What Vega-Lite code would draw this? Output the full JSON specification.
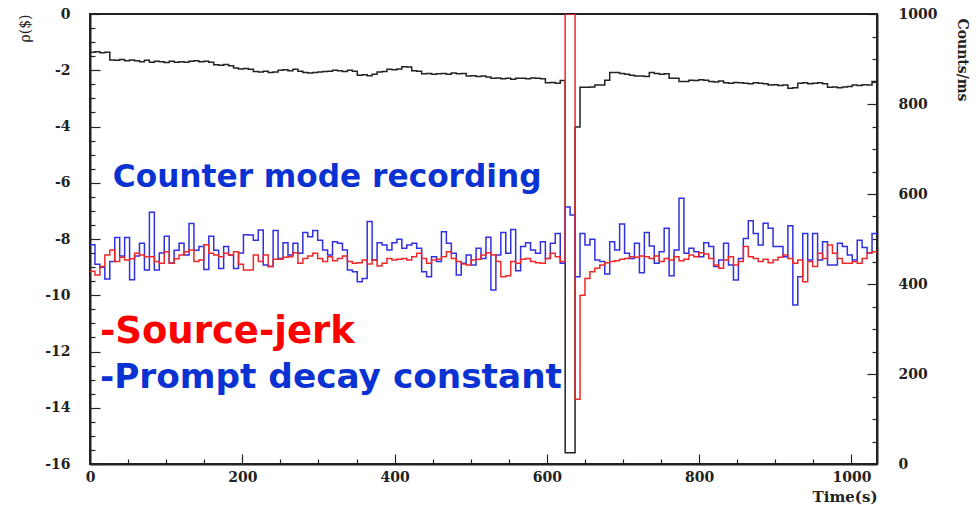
{
  "$schema": "https://vega.github.io/schema/vega-lite/v6.json",
  "width": 787,
  "height": 450,
  "autosize": {"type": "none"},
  "padding": {"left": 90, "top": 14, "right": 99, "bottom": 41},
  "background": "white",
  "config": {
    "view": {"stroke": "#222", "strokeWidth": 2},
    "axis": {
      "grid": false, "domainColor": "#222", "domainWidth": 2, "tickColor": "#222", "tickWidth": 1.2,
      "labelFont": "DejaVu Serif", "labelFontWeight": "bold", "labelFontSize": 14, "labelColor": "#222",
      "titleFont": "DejaVu Serif", "titleColor": "#222", "labelOverlap": false, "labelFlush": false
    }
  },
  "datasets": {
    "h": [
      {"t":0,"s":-9.15,"p":-8.2,"c":915},{"t":6.5,"s":-9.28,"p":-8.9,"c":916},{"t":13,"s":-8.98,"p":-9.0,"c":914},{"t":19.5,"s":-8.57,"p":-9.42,"c":915},
      {"t":26,"s":-8.39,"p":-8.8,"c":898},{"t":32.5,"s":-8.8,"p":-7.95,"c":897},{"t":39,"s":-8.65,"p":-8.6,"c":899},{"t":45.5,"s":-8.75,"p":-7.95,"c":896},
      {"t":52,"s":-8.7,"p":-9.45,"c":898},{"t":58.5,"s":-8.51,"p":-8.6,"c":896},{"t":65,"s":-8.57,"p":-8.15,"c":894},{"t":71.5,"s":-8.63,"p":-9.1,"c":897},
      {"t":78,"s":-8.63,"p":-7.05,"c":893},{"t":84.5,"s":-8.8,"p":-9.1,"c":895},{"t":91,"s":-8.86,"p":-8.5,"c":894},{"t":97.5,"s":-8.45,"p":-7.9,"c":892},
      {"t":104,"s":-8.86,"p":-8.85,"c":895},{"t":110.5,"s":-8.7,"p":-8.4,"c":893},{"t":117,"s":-8.57,"p":-8.15,"c":894},{"t":123.5,"s":-8.45,"p":-8.57,"c":893},
      {"t":130,"s":-8.39,"p":-7.45,"c":895},{"t":136.5,"s":-8.8,"p":-8.4,"c":896},{"t":143,"s":-8.75,"p":-8.27,"c":894},{"t":149.5,"s":-8.2,"p":-9.08,"c":895},
      {"t":156,"s":-8.51,"p":-7.9,"c":893},{"t":162.5,"s":-8.57,"p":-8.4,"c":887},{"t":169,"s":-8.63,"p":-9.05,"c":886},{"t":175.5,"s":-8.51,"p":-8.27,"c":888},
      {"t":182,"s":-8.57,"p":-8.57,"c":885},{"t":188.5,"s":-8.45,"p":-9.05,"c":880},{"t":195,"s":-8.9,"p":-8.5,"c":878},{"t":201.5,"s":-9.1,"p":-7.85,"c":879},
      {"t":208,"s":-9.1,"p":-7.86,"c":877},{"t":214.5,"s":-8.57,"p":-8.04,"c":872},{"t":221,"s":-8.8,"p":-7.68,"c":871},{"t":227.5,"s":-8.57,"p":-8.92,"c":873},
      {"t":234,"s":-8.98,"p":-8.98,"c":870},{"t":240.5,"s":-8.72,"p":-7.7,"c":871},{"t":247,"s":-8.72,"p":-8.69,"c":875},{"t":253.5,"s":-8.65,"p":-8.13,"c":876},
      {"t":260,"s":-8.63,"p":-8.57,"c":874},{"t":266.5,"s":-8.49,"p":-8.15,"c":877},{"t":273,"s":-8.86,"p":-8.51,"c":873},{"t":279.5,"s":-8.69,"p":-7.77,"c":870},
      {"t":286,"s":-8.6,"p":-7.92,"c":869},{"t":292.5,"s":-8.51,"p":-7.7,"c":870},{"t":299,"s":-8.69,"p":-8.04,"c":871},{"t":305.5,"s":-8.8,"p":-8.39,"c":872},
      {"t":312,"s":-8.63,"p":-8.57,"c":873},{"t":318.5,"s":-8.77,"p":-8.1,"c":875},{"t":325,"s":-8.69,"p":-8.15,"c":874},{"t":331.5,"s":-8.6,"p":-8.39,"c":872},
      {"t":338,"s":-8.8,"p":-9.1,"c":875},{"t":344.5,"s":-8.86,"p":-9.16,"c":873},{"t":351,"s":-8.84,"p":-9.52,"c":864},{"t":357.5,"s":-8.75,"p":-9.4,"c":865},
      {"t":364,"s":-8.89,"p":-7.38,"c":863},{"t":370.5,"s":-8.75,"p":-8.75,"c":866},{"t":377,"s":-8.96,"p":-8.13,"c":871},{"t":383.5,"s":-8.86,"p":-8.21,"c":872},
      {"t":390,"s":-8.69,"p":-8.39,"c":877},{"t":396.5,"s":-8.75,"p":-8.13,"c":876},{"t":403,"s":-8.72,"p":-8.01,"c":878},{"t":409.5,"s":-8.69,"p":-8.33,"c":883},
      {"t":416,"s":-8.75,"p":-8.21,"c":882},{"t":422.5,"s":-8.63,"p":-8.15,"c":874},{"t":429,"s":-8.51,"p":-8.33,"c":873},{"t":435.5,"s":-8.69,"p":-9.16,"c":867},
      {"t":442,"s":-8.86,"p":-9.34,"c":868},{"t":448.5,"s":-8.75,"p":-8.63,"c":866},{"t":455,"s":-8.72,"p":-8.8,"c":867},{"t":461.5,"s":-8.63,"p":-7.74,"c":868},
      {"t":468,"s":-8.45,"p":-8.15,"c":866},{"t":474.5,"s":-8.69,"p":-8.51,"c":869},{"t":481,"s":-8.8,"p":-9.28,"c":867},{"t":487.5,"s":-8.89,"p":-8.86,"c":868},
      {"t":494,"s":-8.92,"p":-8.57,"c":862},{"t":500.5,"s":-8.75,"p":-8.92,"c":863},{"t":507,"s":-8.72,"p":-8.33,"c":861},{"t":513.5,"s":-8.57,"p":-8.69,"c":862},
      {"t":520,"s":-8.49,"p":-7.94,"c":860},{"t":526.5,"s":-8.57,"p":-9.81,"c":857},{"t":533,"s":-8.8,"p":-8.57,"c":858},{"t":539.5,"s":-9.34,"p":-7.77,"c":856},
      {"t":546,"s":-9.31,"p":-8.51,"c":857},{"t":552.5,"s":-8.8,"p":-7.66,"c":855},{"t":559,"s":-8.86,"p":-9.13,"c":857},{"t":565.5,"s":-8.72,"p":-8.27,"c":857},
      {"t":572,"s":-8.69,"p":-8.13,"c":856},{"t":578.5,"s":-8.8,"p":-8.39,"c":858},{"t":585,"s":-8.84,"p":-8.51,"c":857},{"t":591.5,"s":-8.86,"p":-8.1,"c":856},
      {"t":598,"s":-8.69,"p":-8.69,"c":847},{"t":604.5,"s":-8.51,"p":-8.15,"c":848},{"t":611,"s":-8.63,"p":-7.8,"c":846},{"t":617.5,"s":-8.8,"p":-8.86,"c":852},
      {"t":624,"s":0,"p":-6.86,"c":25},{"t":630.5,"s":0,"p":-7.15,"c":25},{"t":637,"s":-13.7,"p":-9.34,"c":749},{"t":643.5,"s":-10.0,"p":-7.8,"c":837},
      {"t":650,"s":-9.4,"p":-8.21,"c":837},{"t":656.5,"s":-9.16,"p":-8.01,"c":838},{"t":663,"s":-9.04,"p":-8.75,"c":842},{"t":669.5,"s":-8.92,"p":-8.8,"c":842},
      {"t":676,"s":-8.84,"p":-9.24,"c":853},{"t":682.5,"s":-8.8,"p":-8.1,"c":870},{"t":689,"s":-8.77,"p":-8.39,"c":870},{"t":695.5,"s":-8.72,"p":-7.47,"c":868},
      {"t":702,"s":-8.69,"p":-8.51,"c":866},{"t":708.5,"s":-8.63,"p":-8.69,"c":864},{"t":715,"s":-8.65,"p":-8.15,"c":862},{"t":721.5,"s":-8.6,"p":-9.2,"c":862},
      {"t":728,"s":-8.63,"p":-7.77,"c":861},{"t":734.5,"s":-8.69,"p":-8.25,"c":870},{"t":741,"s":-8.6,"p":-8.86,"c":868},{"t":747.5,"s":-8.8,"p":-8.45,"c":866},
      {"t":754,"s":-8.69,"p":-7.62,"c":867},{"t":760.5,"s":-8.75,"p":-9.31,"c":857},{"t":767,"s":-8.63,"p":-8.39,"c":857},{"t":773.5,"s":-8.77,"p":-6.55,"c":850},
      {"t":780,"s":-8.72,"p":-8.51,"c":850},{"t":786.5,"s":-8.57,"p":-8.33,"c":853},{"t":793,"s":-8.63,"p":-8.45,"c":852},{"t":799.5,"s":-8.49,"p":-8.63,"c":854},
      {"t":806,"s":-8.53,"p":-8.13,"c":853},{"t":812.5,"s":-8.69,"p":-8.27,"c":850},{"t":819,"s":-8.92,"p":-8.98,"c":849},{"t":825.5,"s":-9.04,"p":-8.75,"c":851},
      {"t":832,"s":-8.75,"p":-8.15,"c":847},{"t":838.5,"s":-8.63,"p":-8.92,"c":846},{"t":845,"s":-8.92,"p":-9.46,"c":848},{"t":851.5,"s":-8.8,"p":-8.69,"c":847},
      {"t":858,"s":-8.27,"p":-7.98,"c":846},{"t":864.5,"s":-8.63,"p":-7.35,"c":845},{"t":871,"s":-8.69,"p":-7.8,"c":847},{"t":877.5,"s":-8.8,"p":-8.21,"c":846},
      {"t":884,"s":-8.72,"p":-7.44,"c":845},{"t":890.5,"s":-8.84,"p":-7.62,"c":842},{"t":897,"s":-8.75,"p":-8.27,"c":843},{"t":903.5,"s":-8.65,"p":-8.27,"c":841},
      {"t":910,"s":-8.57,"p":-8.63,"c":842},{"t":916.5,"s":-8.69,"p":-7.53,"c":835},{"t":923,"s":-8.86,"p":-10.35,"c":836},{"t":929.5,"s":-8.75,"p":-9.34,"c":846},
      {"t":936,"s":-9.52,"p":-7.8,"c":847},{"t":942.5,"s":-8.8,"p":-8.75,"c":845},{"t":949,"s":-8.98,"p":-7.8,"c":846},{"t":955.5,"s":-8.51,"p":-8.75,"c":847},
      {"t":962,"s":-8.69,"p":-8.1,"c":845},{"t":968.5,"s":-8.21,"p":-8.92,"c":837},{"t":975,"s":-8.51,"p":-8.92,"c":838},{"t":981.5,"s":-8.69,"p":-8.15,"c":836},
      {"t":988,"s":-8.86,"p":-8.27,"c":838},{"t":994.5,"s":-8.86,"p":-8.57,"c":839},{"t":1001,"s":-8.8,"p":-8.75,"c":842},{"t":1007.5,"s":-8.86,"p":-8.04,"c":841},
      {"t":1014,"s":-8.69,"p":-8.3,"c":843},{"t":1020.5,"s":-8.49,"p":-8.5,"c":842},{"t":1027,"s":-8.45,"p":-7.8,"c":850},{"t":1033.5,"s":-8.45,"p":-7.8,"c":850}
    ]
  },
  "data": {"name": "h"},
  "encoding": {
    "x": {
      "field": "t", "type": "quantitative",
      "scale": {"domain": [0, 1033.5], "nice": false, "zero": false},
      "axis": {
        "values": [0,50,100,150,200,250,300,350,400,450,500,550,600,650,700,750,800,850,900,950,1000],
        "labelExpr": "datum.value % 200 === 0 ? '' + datum.value : ''",
        "tickSize": {"condition": {"test": "datum.value % 200 === 0", "value": -10}, "value": -5},
        "labelPadding": 16,
        "title": "Time(s)", "titleFontSize": 15, "titleFontWeight": "bold",
        "titleX": 787, "titleY": 37, "titleAlign": "right", "titleBaseline": "alphabetic"
      }
    }
  },
  "layer": [
    {
      "mark": {"type": "line", "interpolate": "step-after", "color": "#222222", "strokeWidth": 1.5, "clip": true},
      "encoding": {
        "y": {
          "field": "c", "type": "quantitative",
          "scale": {"domain": [0, 1000], "nice": false, "zero": false},
          "axis": {
            "orient": "right",
            "values": [0,50,100,150,200,250,300,350,400,450,500,550,600,650,700,750,800,850,900,950,1000],
            "labelExpr": "datum.value % 200 === 0 ? '' + datum.value : ''",
            "tickSize": {"condition": {"test": "datum.value % 200 === 0", "value": -10}, "value": -5},
            "labelPadding": 31,
            "title": "Counts/ms", "titleFontSize": 14, "titleFontWeight": "bold",
            "titleAngle": 90, "titleX": 84, "titleY": 4, "titleAlign": "left", "titleBaseline": "middle"
          }
        }
      }
    },
    {
      "encoding": {
        "y": {
          "field": "v", "type": "quantitative",
          "scale": {"domain": [-16, 0], "nice": false, "zero": false},
          "axis": {
            "orient": "left",
            "values": [0,-0.5,-1,-1.5,-2,-2.5,-3,-3.5,-4,-4.5,-5,-5.5,-6,-6.5,-7,-7.5,-8,-8.5,-9,-9.5,-10,-10.5,-11,-11.5,-12,-12.5,-13,-13.5,-14,-14.5,-15,-15.5,-16],
            "labelExpr": "datum.value % 2 === 0 ? '' + datum.value : ''",
            "tickSize": {"condition": {"test": "datum.value % 2 === 0", "value": -10}, "value": -5},
            "labelPadding": 30,
            "title": "ρ($)", "titleFontSize": 14, "titleFontWeight": "normal",
            "titleAngle": 270, "titleX": -65, "titleY": 0, "titleAlign": "right", "titleBaseline": "middle"
          }
        }
      },
      "layer": [
        {
          "transform": [{"fold": ["p", "s"], "as": ["series", "v"]}],
          "mark": {"type": "line", "interpolate": "step-after", "strokeWidth": 1.5, "clip": true},
          "encoding": {
            "color": {"field": "series", "type": "nominal", "scale": {"domain": ["p", "s"], "range": ["#3030e0", "#ee2828"]}, "legend": null}
          }
        },
        {
          "data": {"values": [{"t": 30, "v": -6.15, "label": "Counter mode recording"}]},
          "mark": {"type": "text", "align": "left", "baseline": "alphabetic", "font": "DejaVu Sans", "fontWeight": "bold", "fontSize": 31.2, "color": "#0a32d2"},
          "encoding": {"text": {"field": "label"}}
        },
        {
          "data": {"values": [{"t": 13, "v": -11.7, "label": "-Source-jerk"}]},
          "mark": {"type": "text", "align": "left", "baseline": "alphabetic", "font": "DejaVu Sans", "fontWeight": "bold", "fontSize": 37, "color": "#ff0000"},
          "encoding": {"text": {"field": "label"}}
        },
        {
          "data": {"values": [{"t": 13, "v": -13.3, "label": "-Prompt decay constant"}]},
          "mark": {"type": "text", "align": "left", "baseline": "alphabetic", "font": "DejaVu Sans", "fontWeight": "bold", "fontSize": 34.3, "color": "#0a32d2"},
          "encoding": {"text": {"field": "label"}}
        }
      ]
    }
  ],
  "resolve": {"scale": {"y": "independent"}, "axis": {"y": "independent"}}
}
